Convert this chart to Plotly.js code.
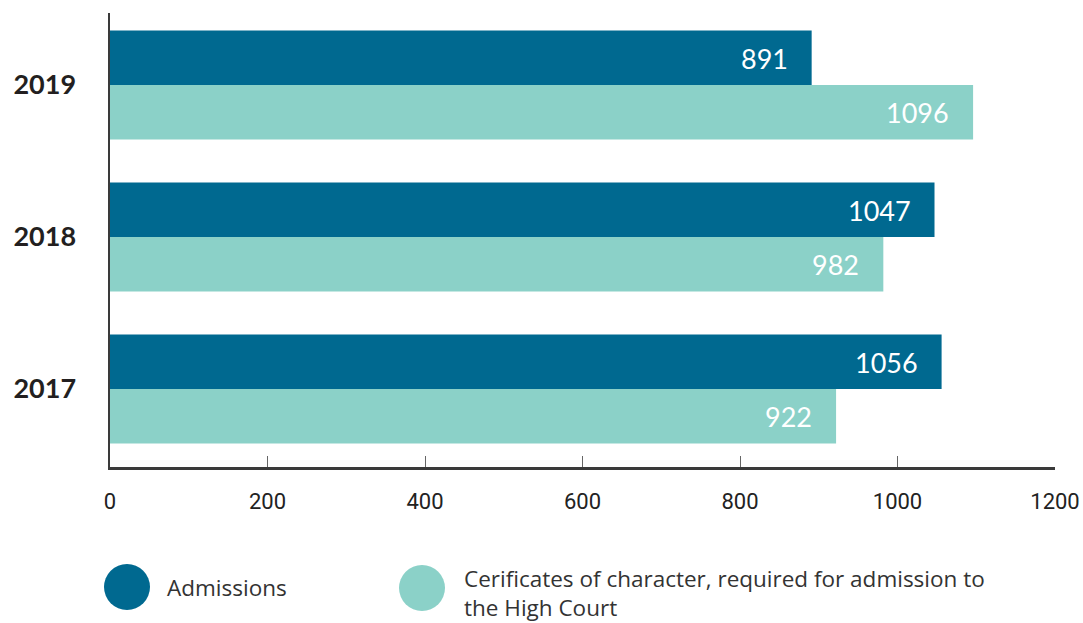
<!DOCTYPE html>
<html><head><meta charset="utf-8">
<script src="https://cdn.plot.ly/plotly-3.0.1.min.js"></script>
<style>body{margin:0;background:#fff}#chart{width:1083px;height:623px}</style>
</head><body><div id="chart"></div>
<script>
const years = ['2017', '2018', '2019'];
const admissions = [1056, 1047, 891];
const certificates = [922, 982, 1096];
const seriesNames = ['Admissions', 'Cerificates of character, required for admission to<br>the High Court'];
const tickVals = [0, 200, 400, 600, 800, 1000, 1200];

const darkC = '#006990', lightC = '#8bd1c8';

const traces = [
  {type: 'bar', orientation: 'h', y: years, x: certificates, name: seriesNames[1],
   marker: {color: lightC}, hoverinfo: 'x', showlegend: false},
  {type: 'bar', orientation: 'h', y: years, x: admissions, name: seriesNames[0],
   marker: {color: darkC}, hoverinfo: 'x', showlegend: false}
];

const annotations = [];
years.forEach((y, i) => {
  annotations.push({x: admissions[i], y: i, xref: 'x', yref: 'y', text: String(admissions[i]),
    showarrow: false, xanchor: 'right', yanchor: 'middle', xshift: -22, yshift: 27,
    font: {family: 'Lato, sans-serif', size: 27, color: '#ffffff'}});
  annotations.push({x: certificates[i], y: i, xref: 'x', yref: 'y', text: String(certificates[i]),
    showarrow: false, xanchor: 'right', yanchor: 'middle', xshift: -22, yshift: -27,
    font: {family: 'Lato, sans-serif', size: 27, color: '#ffffff'}});
});
// legend text
annotations.push({xref: 'paper', yref: 'paper', x: (165-110)/945, y: (623-156-587)/454,
  text: seriesNames[0], showarrow: false, xanchor: 'left', yanchor: 'middle',
  font: {family: '"Open Sans", sans-serif', size: 22.5, color: '#333333'}});
annotations.push({xref: 'paper', yref: 'paper', x: (462-110)/945, y: (623-156-593)/454,
  text: seriesNames[1], showarrow: false, xanchor: 'left', yanchor: 'middle', align: 'left',
  font: {family: '"Open Sans", sans-serif', size: 22.5, color: '#333333'}});

function circle(cx, cy, r, color) {
  return {type: 'circle', xref: 'paper', yref: 'paper',
    x0: (cx - r - 110)/945, x1: (cx + r - 110)/945,
    y0: (467 - (cy + r))/454, y1: (467 - (cy - r))/454,
    fillcolor: color, line: {width: 0}};
}

const layout = {
  width: 1083, height: 623,
  margin: {l: 110, r: 28, t: 13, b: 156},
  paper_bgcolor: '#ffffff', plot_bgcolor: '#ffffff',
  barmode: 'group', bargap: 0.283, bargroupgap: 0,
  xaxis: {range: [0, 1200], tickvals: tickVals, showgrid: false, zeroline: false,
    showline: true, linecolor: '#3a3a3a', linewidth: 2.5,
    ticks: 'inside', ticklen: 11, tickwidth: 1, tickcolor: '#666666',
    ticklabelstandoff: 13,
    tickfont: {family: '"Liberation Sans Narrow", Roboto, sans-serif', size: 22, color: '#222222'}},
  yaxis: {type: 'category', categoryarray: years, range: [-0.513, 2.474],
    showgrid: false, zeroline: false, showline: true, linecolor: '#3a3a3a', linewidth: 2.5,
    ticks: '', ticklabelstandoff: 26,
    tickfont: {family: 'Lato, sans-serif', size: 27, color: '#231f20', weight: 'bold'}},
  shapes: [circle(127, 587, 23, darkC), circle(422, 588, 23, lightC)],
  annotations: annotations
};

Plotly.newPlot('chart', traces, layout, {displayModeBar: false, staticPlot: true});
</script></body></html>
